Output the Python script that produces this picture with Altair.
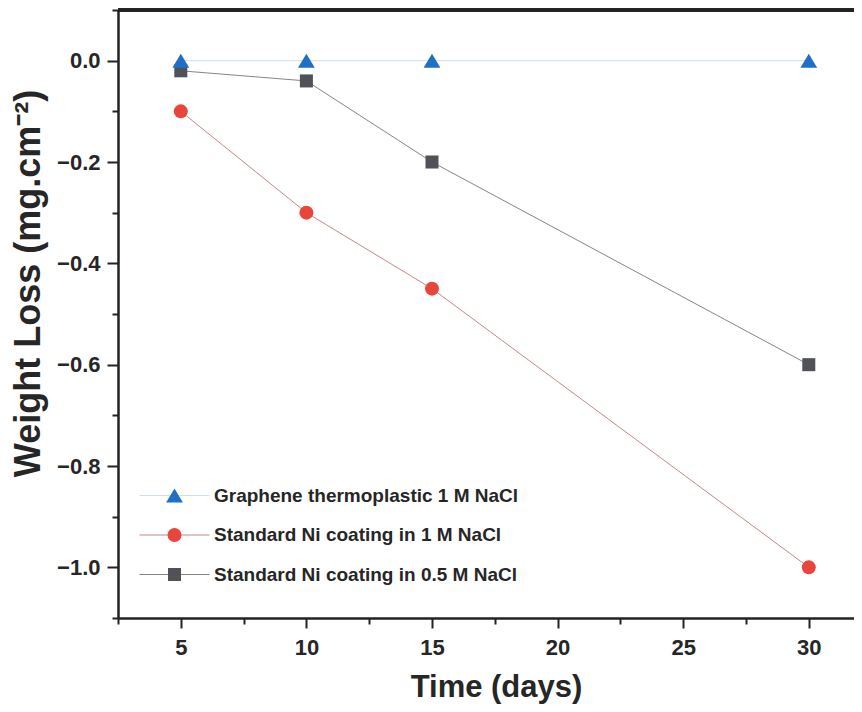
import altair as alt
import pandas as pd

# ---- data ----
series_names = [
    "Graphene thermoplastic 1 M NaCl",
    "Standard Ni coating in 1 M NaCl",
    "Standard Ni coating in 0.5 M NaCl",
]
days_graphene = [5, 10, 15, 30]
loss_graphene = [0.0, 0.0, 0.0, 0.0]
days_ni_1m = [5, 10, 15, 30]
loss_ni_1m = [-0.10, -0.30, -0.45, -1.00]
days_ni_05m = [5, 10, 15, 30]
loss_ni_05m = [-0.02, -0.04, -0.20, -0.60]

x_tick_values = [2.5, 5, 7.5, 10, 12.5, 15, 17.5, 20, 22.5, 25, 27.5, 30]
y_tick_values = [0.1, 0.0, -0.1, -0.2, -0.3, -0.4, -0.5, -0.6, -0.7, -0.8, -0.9, -1.0, -1.1]

marker_colors = ["#1f6fc4", "#e8453c", "#505258"]
line_colors = ["#cfdff0", "#c98585", "#858585"]
marker_shapes = ["M0,-1L1.2,1L-1.2,1Z", "circle", "M-0.93,-0.93H0.93V0.93H-0.93Z"]

# build table (gray first, then red, then blue, so blue is drawn on top)
rows = []
for name, xs, ys in [
    (series_names[2], days_ni_05m, loss_ni_05m),
    (series_names[1], days_ni_1m, loss_ni_1m),
    (series_names[0], days_graphene, loss_graphene),
]:
    for xv, yv in zip(xs, ys):
        rows.append({"series": name, "line_series": name, "day": xv, "loss": yv})
df = pd.DataFrame(rows)

W, H = 736, 608
FONT = "Liberation Sans"

x_enc = alt.X(
    "day:Q",
    scale=alt.Scale(domain=[2.5, 31.8], nice=False, zero=False),
    axis=alt.Axis(
        title="Time (days)",
        values=x_tick_values,
        labelExpr="datum.value % 5 == 0 ? format(datum.value, 'd') : ''",
        tickSize={"condition": {"test": "datum.value % 5 == 0", "value": 10}, "value": 6},
        labelPadding=9,
        titlePadding=14,
        titleX=378,
        grid=False,
        labelFlush=False,
        labelOverlap=False,
    ),
)
y_enc = alt.Y(
    "loss:Q",
    scale=alt.Scale(domain=[-1.1, 0.1], nice=False, zero=False),
    axis=alt.Axis(
        title="Weight Loss (mg.cm\u207b\u00b2)",
        values=y_tick_values,
        labelExpr="abs(round(datum.value*10)) % 2 == 0 ? format(datum.value, '.1f') : ''",
        tickSize={"condition": {"test": "abs(round(datum.value*10)) % 2 == 0", "value": 11}, "value": 6},
        labelPadding=7,
        titlePadding=9,
        titleY=273,
        titleFontSize=36,
        grid=False,
        labelFlush=False,
        labelOverlap=False,
    ),
)

LEG_X, LEG_Y = 47, 476
common_leg = dict(
    orient="none",
    legendX=LEG_X,
    legendY=LEG_Y,
    padding=0,
    labelFont=FONT,
    labelFontSize=19,
    labelFontWeight="bold",
    labelOffset=30,
    rowPadding=19.5,
    symbolSize=196,
    labelLimit=600,
)

lines = alt.Chart(df).mark_line(strokeWidth=1).encode(
    x=x_enc,
    y=y_enc,
    color=alt.Color(
        "line_series:N",
        sort=series_names,
        scale=alt.Scale(range=line_colors),
        title=None,
        legend=alt.Legend(
            symbolType="M-5,0H5",
            symbolStrokeWidth=1,
            labelColor="transparent",
            **common_leg,
        ),
    ),
)

pt_legend = alt.Legend(symbolStrokeWidth=0, labelColor="#262626", **common_leg)
points = alt.Chart(df).mark_point(filled=True, size=196, strokeWidth=0, opacity=1).encode(
    x=x_enc,
    y=y_enc,
    fill=alt.Fill(
        "series:N",
        scale=alt.Scale(domain=series_names, range=marker_colors),
        title=None,
        legend=pt_legend,
    ),
    shape=alt.Shape(
        "series:N",
        scale=alt.Scale(domain=series_names, range=marker_shapes),
        title=None,
        legend=pt_legend,
    ),
)

top_border = alt.Chart(df).mark_rule(color="#222222", strokeWidth=2.5).encode(
    x=alt.value(0), x2=alt.value(W), y=alt.value(0)
)

chart = (
    alt.layer(lines, points, top_border)
    .properties(
        width=W,
        height=H,
        autosize="none",
        padding={"left": 110, "top": 2, "right": 0, "bottom": 86},
    )
    .configure(font=FONT)
    .configure_view(stroke=None)
    .configure_axis(
        domainColor="#222222",
        domainWidth=2.5,
        tickColor="#222222",
        tickWidth=2,
        labelFont=FONT,
        labelFontSize=22,
        labelFontWeight="bold",
        labelColor="#262626",
        titleFont=FONT,
        titleFontSize=31,
        titleFontWeight="bold",
        titleColor="#262626",
    )
)

chart.save("out.html", embed_options={"renderer": "svg", "actions": False})
